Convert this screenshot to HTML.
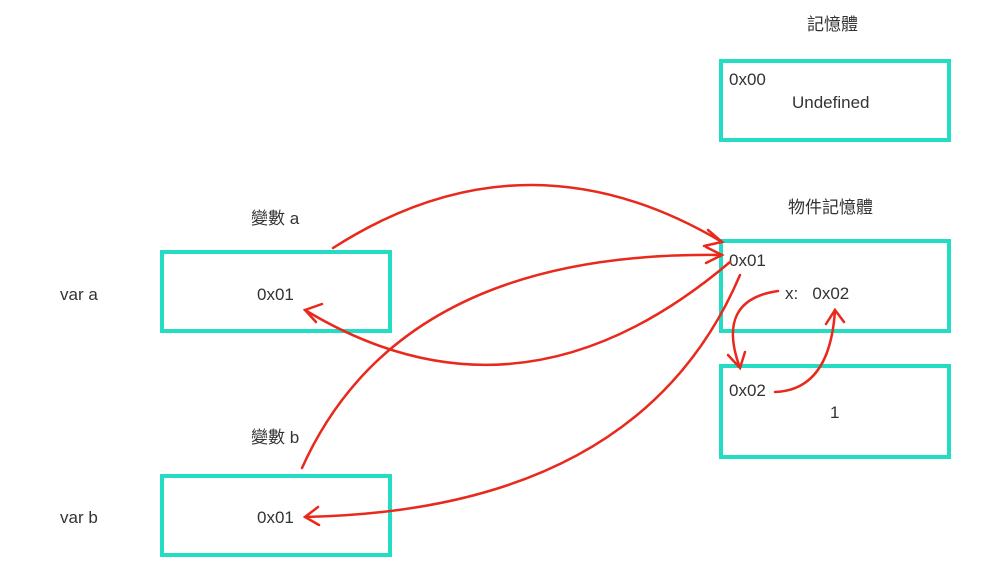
<!DOCTYPE html>
<html><head><meta charset="utf-8"><style>
body{margin:0;background:#fff;width:998px;height:568px;overflow:hidden;}
svg text{font-family:"Liberation Sans","Noto Sans CJK TC",sans-serif;fill:#333;font-size:17px;}
</style></head><body>
<svg width="998" height="568" viewBox="0 0 998 568">
<g fill="none" stroke="#24dcc4" stroke-width="4">
<rect x="162" y="252" width="228" height="79"/>
<rect x="162" y="476" width="228" height="79"/>
<rect x="721" y="61" width="228" height="79"/>
<rect x="721" y="241" width="228" height="90"/>
<rect x="721" y="366" width="228" height="91"/>
</g>
<text x="60" y="300">var a</text>
<text x="60" y="523">var b</text>
<text x="251" y="224">變數 a</text>
<text x="251" y="443">變數 b</text>
<text x="807" y="30">記憶體</text>
<text x="788" y="213">物件記憶體</text>
<text x="257" y="300">0x01</text>
<text x="257" y="523">0x01</text>
<text x="729" y="85">0x00</text>
<text x="792" y="108">Undefined</text>
<text x="729" y="266">0x01</text>
<text x="785" y="299">x:&#160;&#160;&#160;0x02</text>
<text x="729" y="396">0x02</text>
<text x="830" y="418">1</text>
<g fill="none" stroke="#e8291c" stroke-width="2.5" stroke-linecap="round">
<path d="M333 248 Q525 125 722 242"/><path d="M708 230 L722 242 L704 246"/>
<path d="M730 262 Q520 440 305 310"/><path d="M322 304 L305 310 L316 322"/>
<path d="M302 468 Q400 250 722 255"/><path d="M706 247 L722 255 L706 263"/>
<path d="M740 275 Q640 510 305 517"/><path d="M318 507 L305 517 L319 525"/>
<path d="M778 291 Q715 300 740 368"/><path d="M728 355 L740 368 L745 352"/>
<path d="M775 392 Q830 390 835 310"/><path d="M826 324 L835 310 L844 322"/>
</g>
</svg>
</body></html>
